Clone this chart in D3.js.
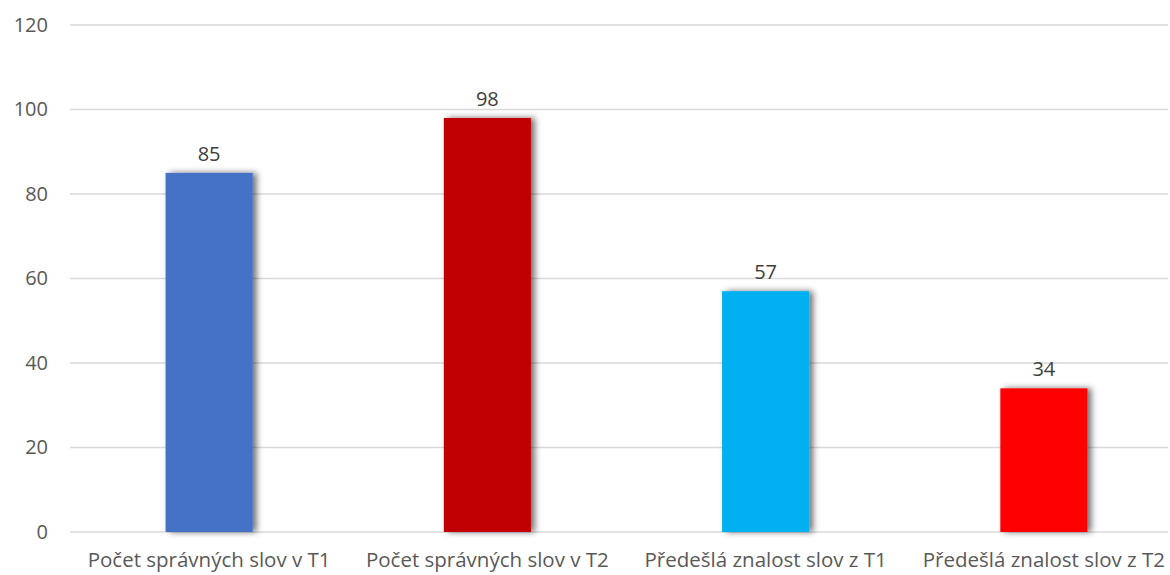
<!DOCTYPE html>
<html>
<head>
<meta charset="utf-8">
<script src="https://cdn.jsdelivr.net/npm/d3@7"></script>
<style>
  body { margin: 0; background: #fff; }
  text { font-family: "Open Sans", "Noto Sans", sans-serif; }
</style>
</head>
<body>
<div id="chart"></div>
<script>
// chart data
const categories = ["Počet správných slov v T1", "Počet správných slov v T2", "Předešlá znalost slov z T1", "Předešlá znalost slov z T2"];
const values = [85, 98, 57, 34];
const colors = ["#4472C4", "#C00000", "#00B0F0", "#FF0000"];
const yTicks = [0, 20, 40, 60, 80, 100, 120];

let width = 1170;
let height = 575;
let margin = {top: 25, bottom: 43, left: 70, right: -13};

let svg = d3.select('#chart')
    .append('svg')
    .attr('width', width)
    .attr('height', height);

// soft shadow like the original
let defs = svg.append('defs');
let filter = defs.append('filter')
    .attr('id', 'shadow')
    .attr('x', '-20%').attr('y', '-20%')
    .attr('width', '150%').attr('height', '150%');
filter.append('feDropShadow')
    .attr('dx', 4).attr('dy', 0)
    .attr('stdDeviation', 3)
    .attr('flood-color', '#000')
    .attr('flood-opacity', 0.55);

let x = d3.scaleBand()
    .domain(categories)
    .range([margin.left, width - margin.right]);

let y = d3.scaleLinear()
    .domain([0, 120])
    .range([height - margin.bottom, margin.top]);

// gridlines
svg.append('g')
    .selectAll('line')
    .data(yTicks)
    .enter()
    .append('line')
    .attr('x1', margin.left)
    .attr('x2', 1168)
    .attr('y1', d => y(d))
    .attr('y2', d => y(d))
    .attr('stroke', '#d9d9d9')
    .attr('stroke-width', 1.3);

// y axis labels
let yAxis = svg.append('g')
    .attr('transform', `translate(${margin.left - 22}, 0)`)
    .call(d3.axisLeft(y).tickValues(yTicks).tickSize(0).tickPadding(0));
yAxis.select('.domain').remove();
yAxis.selectAll('text')
    .attr('fill', '#595959')
    .style('font-size', '20px');

// bars
let barW = x.bandwidth() * 0.313;
svg.selectAll('rect.bar')
    .data(values)
    .enter()
    .append('rect')
    .attr('class', 'bar')
    .attr('x', (d, i) => x(categories[i]) + x.bandwidth() / 2 - barW / 2)
    .attr('width', barW)
    .attr('y', d => y(d))
    .attr('height', d => y(0) - y(d))
    .attr('fill', (d, i) => colors[i])
    .attr('filter', 'url(#shadow)');

// value labels
svg.selectAll('text.val')
    .data(values)
    .enter()
    .append('text')
    .attr('class', 'val')
    .attr('x', (d, i) => x(categories[i]) + x.bandwidth() / 2)
    .attr('y', d => y(d) - 12)
    .attr('text-anchor', 'middle')
    .attr('fill', '#404040')
    .style('font-size', '20px')
    .text(d => d);

// x axis labels
let xAxis = svg.append('g')
    .attr('transform', `translate(0, ${height - margin.bottom})`)
    .call(d3.axisBottom(x).tickSize(0).tickPadding(20));
xAxis.select('.domain').remove();
xAxis.selectAll('text')
    .attr('fill', '#595959')
    .style('font-size', '20.5px');
</script>
</body>
</html>
